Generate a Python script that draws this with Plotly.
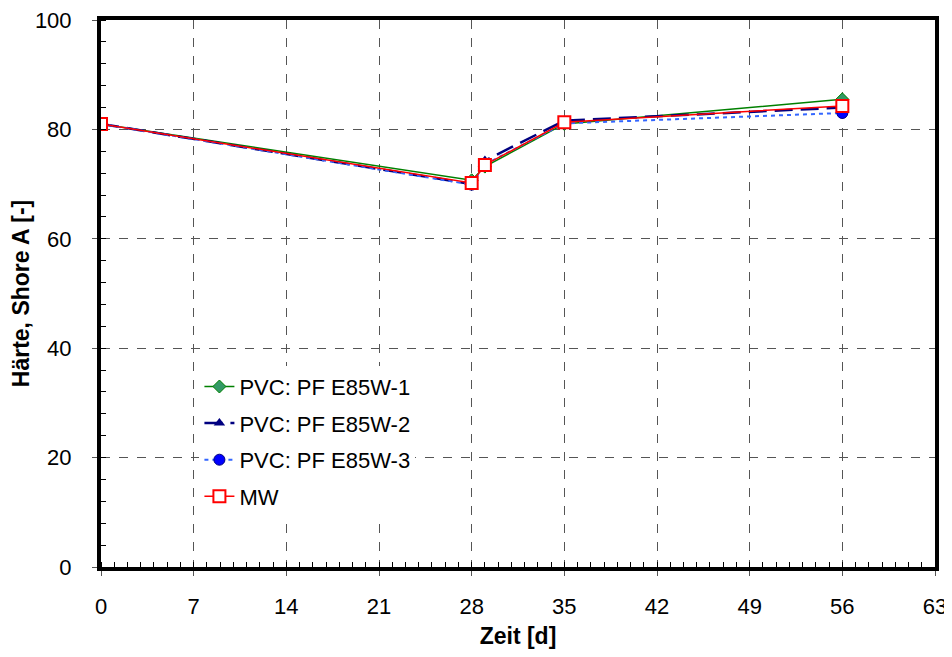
import plotly.graph_objects as go

# Prüfzeitpunkte in Tagen
zeit = [0, 28, 29, 35, 56]

# Härte Shore A je Probe
pf_e85w_1 = [81.0, 70.7, 73.2, 81.0, 85.5]
pf_e85w_2 = [81.0, 70.0, 74.3, 81.6, 84.0]
pf_e85w_3 = [81.0, 69.9, 73.6, 81.1, 83.0]
mw = [81.0, 70.2, 73.5, 81.3, 84.3]

x_ticks = [0, 7, 14, 21, 28, 35, 42, 49, 56, 63]
y_ticks = [0, 20, 40, 60, 80, 100]

fig = go.Figure()

fig.add_trace(go.Scatter(
    x=zeit, y=pf_e85w_1, name='PVC: PF E85W-1', mode='lines+markers', legendgroup='a',
    line=dict(color='#008000', width=1.5),
    marker=dict(symbol='diamond', size=10, color='#339966', line=dict(color='#008000', width=1))
))
fig.add_trace(go.Scatter(
    x=zeit, y=pf_e85w_2, name='PVC: PF E85W-2', mode='lines+markers', legendgroup='b',
    line=dict(color='#000080', width=2.5, dash='18px,8px'),
    marker=dict(symbol='triangle-up', size=10, color='#000080')
))
fig.add_trace(go.Scatter(
    x=zeit, y=pf_e85w_3, name='PVC: PF E85W-3', mode='lines+markers', legendgroup='c',
    line=dict(color='#3366FF', width=2, dash='4px,4px'),
    marker=dict(symbol='circle', size=11, color='#0000FF', line=dict(color='#000080', width=1))
))
fig.add_trace(go.Scatter(
    x=zeit, y=mw, name='MW', mode='lines+markers', legendgroup='d',
    line=dict(color='#FF0000', width=1.5),
    marker=dict(symbol='square', size=12, color='white', line=dict(color='#FF0000', width=2))
))

# die Seite hat 8px Rand, daher Figur entsprechend kleiner (kein Scrollbalken)
fig.update_layout(
    width=944, height=641,
    paper_bgcolor='white', plot_bgcolor='white',
    margin=dict(l=93, r=17, t=12, b=82),
    font=dict(family='Liberation Sans, Arial, sans-serif', size=22, color='black'),
    showlegend=True,
    legend=dict(x=0.118, y=0.368, xanchor='left', yanchor='top',
                bgcolor='white', font=dict(size=22),
                tracegroupgap=5)
)

fig.update_xaxes(
    range=[0, 63], tickvals=x_ticks, automargin=False, ticklabeloverflow='allow',
    title=dict(text='<b>Zeit [d]</b>', font=dict(size=23)),
    tickfont=dict(size=22), ticklabelstandoff=12,
    showline=True, linecolor='black', linewidth=4, mirror=True,
    showgrid=True, gridcolor='#555555', griddash='dash', gridwidth=1,
    ticks='outside', ticklen=5, tickcolor='#555555',
    minor=dict(dtick=1, ticks='inside', ticklen=5, tickcolor='black', showgrid=False),
    zeroline=False
)
fig.update_yaxes(
    range=[0, 100], tickvals=y_ticks, automargin=False, ticklabeloverflow='allow',
    title=dict(text='<b>Härte, Shore A [-]</b>', font=dict(size=23)),
    tickfont=dict(size=22), ticklabelstandoff=16,
    showline=True, linecolor='black', linewidth=4, mirror=True,
    showgrid=True, gridcolor='#555555', griddash='dash', gridwidth=1,
    ticks='outside', ticklen=5, tickcolor='#555555',
    minor=dict(dtick=4, ticks='inside', ticklen=5, tickcolor='black', showgrid=False),
    zeroline=False
)

fig.write_html("out.html")
